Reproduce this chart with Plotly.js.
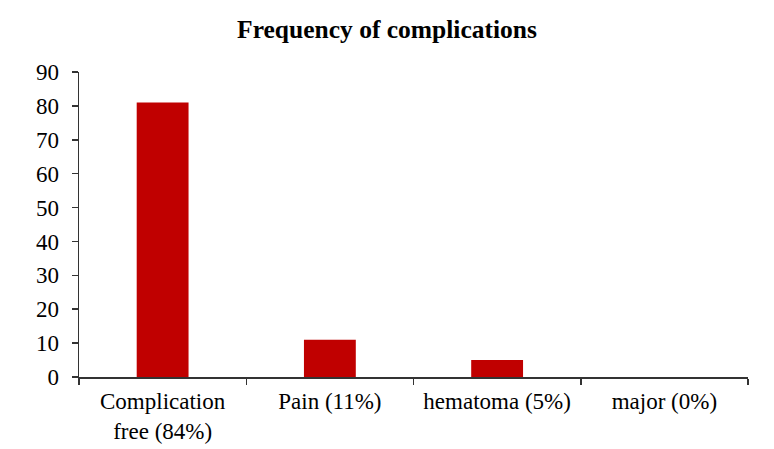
<!DOCTYPE html>
<html>
<head>
<meta charset="utf-8">
<script src="https://cdn.plot.ly/plotly-3.0.1.min.js"></script>
<style>
  html, body { margin: 0; padding: 0; background: #fff; }
  #chart { width: 774px; height: 449px; }
</style>
</head>
<body>
<div id="chart"></div>
<script>
(function() {
  'use strict';

  // categories and counts
  var categories = ['Complication<br>free (84%)', 'Pain (11%)', 'hematoma (5%)', 'major (0%)'];
  var counts = [81, 11, 5, 0];
  var yTicks = [0, 10, 20, 30, 40, 50, 60, 70, 80, 90];

  var barData = [{
    type: 'bar',
    x: categories,
    y: counts,
    width: 0.31,
    marker: { color: '#C00000' },
    hoverinfo: 'x+y'
  }];

  var serif = 'Liberation Serif, Times New Roman, serif';

  var barLayout = {
    width: 774,
    height: 449,
    margin: { l: 79, r: 26, t: 72, b: 72 },
    paper_bgcolor: '#fff',
    plot_bgcolor: '#fff',
    font: { family: serif, size: 23, color: '#000' },
    showlegend: false,
    title: {
      text: '<b>Frequency of complications</b>',
      font: { family: serif, size: 25.5, color: '#000' },
      x: 0.5,
      xanchor: 'center',
      y: 0.935,
      yanchor: 'middle'
    },
    xaxis: {
      type: 'category',
      showline: true,
      linecolor: '#333',
      linewidth: 1.5,
      ticks: 'outside',
      tickson: 'boundaries',
      ticklen: 6,
      tickcolor: '#333',
      tickwidth: 1.5,
      ticklabelstandoff: 3,
      showgrid: false,
      zeroline: false,
      tickfont: { family: serif, size: 23, color: '#000' }
    },
    yaxis: {
      range: [0, 90],
      tickvals: yTicks,
      ticktext: yTicks.map(String),
      showline: true,
      linecolor: '#333',
      linewidth: 1.5,
      ticks: 'outside',
      ticklen: 6,
      tickcolor: '#333',
      tickwidth: 1.5,
      ticklabelstandoff: 8,
      showgrid: false,
      zeroline: false,
      tickfont: { family: serif, size: 23, color: '#000' }
    }
  };

  Plotly.newPlot('chart', barData, barLayout, { displayModeBar: false, staticPlot: true });
}());
</script>
</body>
</html>
